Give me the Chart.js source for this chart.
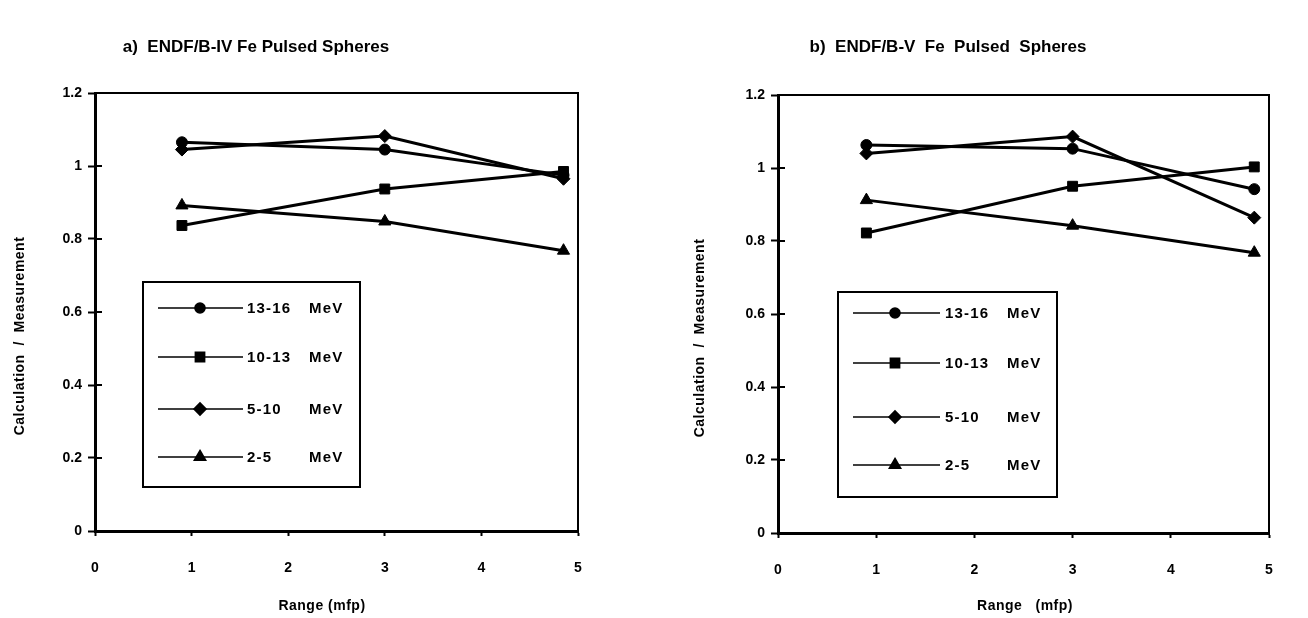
<!DOCTYPE html>
<html><head><meta charset="utf-8">
<script src="https://cdn.jsdelivr.net/npm/chart.js@4/dist/chart.umd.min.js"></script>
<style>
body{margin:0;background:#fff;width:1308px;height:618px;overflow:hidden;position:relative}
.wrap{position:absolute;top:0;width:654px;height:618px}
canvas{display:block}
</style></head><body>
<div class="wrap" style="left:0"><canvas id="cA" width="654" height="618"></canvas></div>
<div class="wrap" style="left:654px"><canvas id="cB" width="654" height="618"></canvas></div>
<script>
// ---- data ----
const rangeMfp = [0.9, 3.0, 4.85];
const seriesLabels = ['13-16 MeV', '10-13 MeV', '5-10 MeV', '2-5 MeV'];
const endfIV_13_16 = [1.065, 1.045, 0.975];
const endfIV_10_13 = [0.837, 0.937, 0.985];
const endfIV_5_10  = [1.045, 1.082, 0.965];
const endfIV_2_5   = [0.892, 0.848, 0.768];
const endfV_13_16  = [1.063, 1.053, 0.942];
const endfV_10_13  = [0.822, 0.950, 1.003];
const endfV_5_10   = [1.040, 1.086, 0.864];
const endfV_2_5    = [0.912, 0.842, 0.768];
const xTickValues = [0, 1, 2, 3, 4, 5];
const yTickValues = [0, 0.2, 0.4, 0.6, 0.8, 1, 1.2];
const titleA = 'a)  ENDF/B-IV Fe Pulsed Spheres';
const titleB = 'b)  ENDF/B-V  Fe  Pulsed  Spheres';
const yTitle = 'Calculation  /  Measurement';
const xTitleA = 'Range (mfp)';
const xTitleB = 'Range   (mfp)';

const markerStyles = [
  {pointStyle: 'circle', radius: 5.5},
  {pointStyle: 'rect', radius: 7},
  {pointStyle: 'rectRot', radius: 6.5},
  {pointStyle: 'triangle', radius: 7}
];
const FONT = '"Liberation Sans", Arial, sans-serif';

function makeDatasets(seriesArr) {
  return seriesArr.map((vals, i) => ({
    label: seriesLabels[i],
    data: vals.map((v, k) => ({x: rangeMfp[k], y: v})),
    borderColor: '#000', backgroundColor: '#000',
    borderWidth: 3,
    pointStyle: markerStyles[i].pointStyle,
    pointRadius: markerStyles[i].radius,
    pointBorderWidth: 1,
    pointHoverRadius: markerStyles[i].radius,
    showLine: true, fill: false, tension: 0
  }));
}

const decorPlugin = {
  id: 'decor',
  afterDraw(chart, args, o) {
    const ctx = chart.ctx, a = chart.chartArea;
    const ys = chart.scales.y;
    ctx.save();
    // frame top/right
    ctx.strokeStyle = '#000'; ctx.lineWidth = 2;
    ctx.beginPath();
    ctx.moveTo(a.left, a.top); ctx.lineTo(a.right, a.top); ctx.lineTo(a.right, a.bottom);
    ctx.stroke();
    // inner half of y ticks
    yTickValues.forEach(v => {
      const py = ys.getPixelForValue(v);
      ctx.beginPath(); ctx.moveTo(a.left, py); ctx.lineTo(a.left + 7, py); ctx.stroke();
    });
    // titles
    ctx.fillStyle = '#000';
    ctx.textAlign = 'center'; ctx.textBaseline = 'middle';
    ctx.font = 'bold 17px ' + FONT;
    ctx.fillText(o.title, o.titleX, o.titleY);
    ctx.font = 'bold 14px ' + FONT;
    ctx.letterSpacing = '0.5px';
    ctx.fillText(o.xTitle, o.xTitleX, o.xTitleY);
    ctx.save();
    ctx.translate(o.yTitleX, o.yTitleY); ctx.rotate(-Math.PI / 2);
    ctx.fillText(yTitle, 0, 0);
    ctx.restore();
    ctx.letterSpacing = '0px';
    // legend box
    const L = o.legend;
    ctx.lineWidth = 2;
    ctx.strokeRect(L.left, L.top, L.right - L.left, L.bottom - L.top);
    chart.data.datasets.forEach((ds, i) => {
      const y = L.rowY[i];
      ctx.lineWidth = 1.6;
      ctx.beginPath(); ctx.moveTo(L.lineX0, y); ctx.lineTo(L.lineX1, y); ctx.stroke();
      ctx.fillStyle = '#000'; ctx.strokeStyle = '#000';
      Chart.helpers.drawPoint(ctx, {pointStyle: ds.pointStyle, radius: ds.pointRadius - 0.5, rotation: 0, borderWidth: 1}, L.markX, y);
      const parts = ds.label.split(' ');
      ctx.font = 'bold 15px ' + FONT;
      ctx.textAlign = 'left'; ctx.textBaseline = 'middle';
      ctx.letterSpacing = '1.2px';
      ctx.fillText(parts[0], L.numX, y + 1);
      ctx.fillText(parts[1], L.unitX, y + 1);
      ctx.letterSpacing = '0px';
    });
    ctx.restore();
  }
};

function makeChart(id, seriesArr, pad, decor) {
  return new Chart(document.getElementById(id), {
    type: 'scatter',
    data: {datasets: makeDatasets(seriesArr)},
    options: {
      responsive: false, animation: false,
      layout: {padding: pad},
      plugins: {legend: {display: false}, tooltip: {enabled: false}, title: {display: false}, decor: decor},
      scales: {
        x: {
          type: 'linear', min: 0, max: 5,
          afterBuildTicks: s => { s.ticks = xTickValues.map(v => ({value: v})); },
          afterFit: s => { s.height = pad.xHeight; },
          grid: {drawOnChartArea: false, drawTicks: true, tickLength: 5, tickWidth: 2, tickColor: '#000'},
          border: {display: true, color: '#000', width: 3},
          ticks: {color: '#000', padding: 24, maxRotation: 0, font: {family: FONT, size: 14, weight: 'bold'}}
        },
        y: {
          type: 'linear', min: 0, max: 1.2,
          afterBuildTicks: s => { s.ticks = yTickValues.map(v => ({value: v})); },
          afterFit: s => { s.width = pad.yWidth; },
          grid: {drawOnChartArea: false, drawTicks: true, tickLength: 7, tickWidth: 2, tickColor: '#000'},
          border: {display: true, color: '#000', width: 3},
          ticks: {color: '#000', padding: 6, font: {family: FONT, size: 14, weight: 'bold'},
                  callback: v => String(Math.round(v * 10) / 10)}
        }
      }
    },
    plugins: [decorPlugin]
  });
}

makeChart('cA', [endfIV_13_16, endfIV_10_13, endfIV_5_10, endfIV_2_5],
  {left: 0, right: 76, top: 93, bottom: 0, yWidth: 95, xHeight: 87},
  {title: titleA, titleX: 256, titleY: 47, xTitle: xTitleA, xTitleX: 322, xTitleY: 606,
   yTitleX: 20, yTitleY: 336,
   legend: {left: 143, top: 282, right: 360, bottom: 487, lineX0: 158, lineX1: 243, markX: 200,
            numX: 247, unitX: 309, rowY: [308, 357, 409, 457]}});

makeChart('cB', [endfV_13_16, endfV_10_13, endfV_5_10, endfV_2_5],
  {left: 0, right: 39, top: 95, bottom: 0, yWidth: 124, xHeight: 85},
  {title: titleB, titleX: 294, titleY: 47, xTitle: xTitleB, xTitleX: 371, xTitleY: 606,
   yTitleX: 46, yTitleY: 338,
   legend: {left: 184, top: 292, right: 403, bottom: 497, lineX0: 199, lineX1: 286, markX: 241,
            numX: 291, unitX: 353, rowY: [313, 363, 417, 465]}});
</script>
</body></html>
